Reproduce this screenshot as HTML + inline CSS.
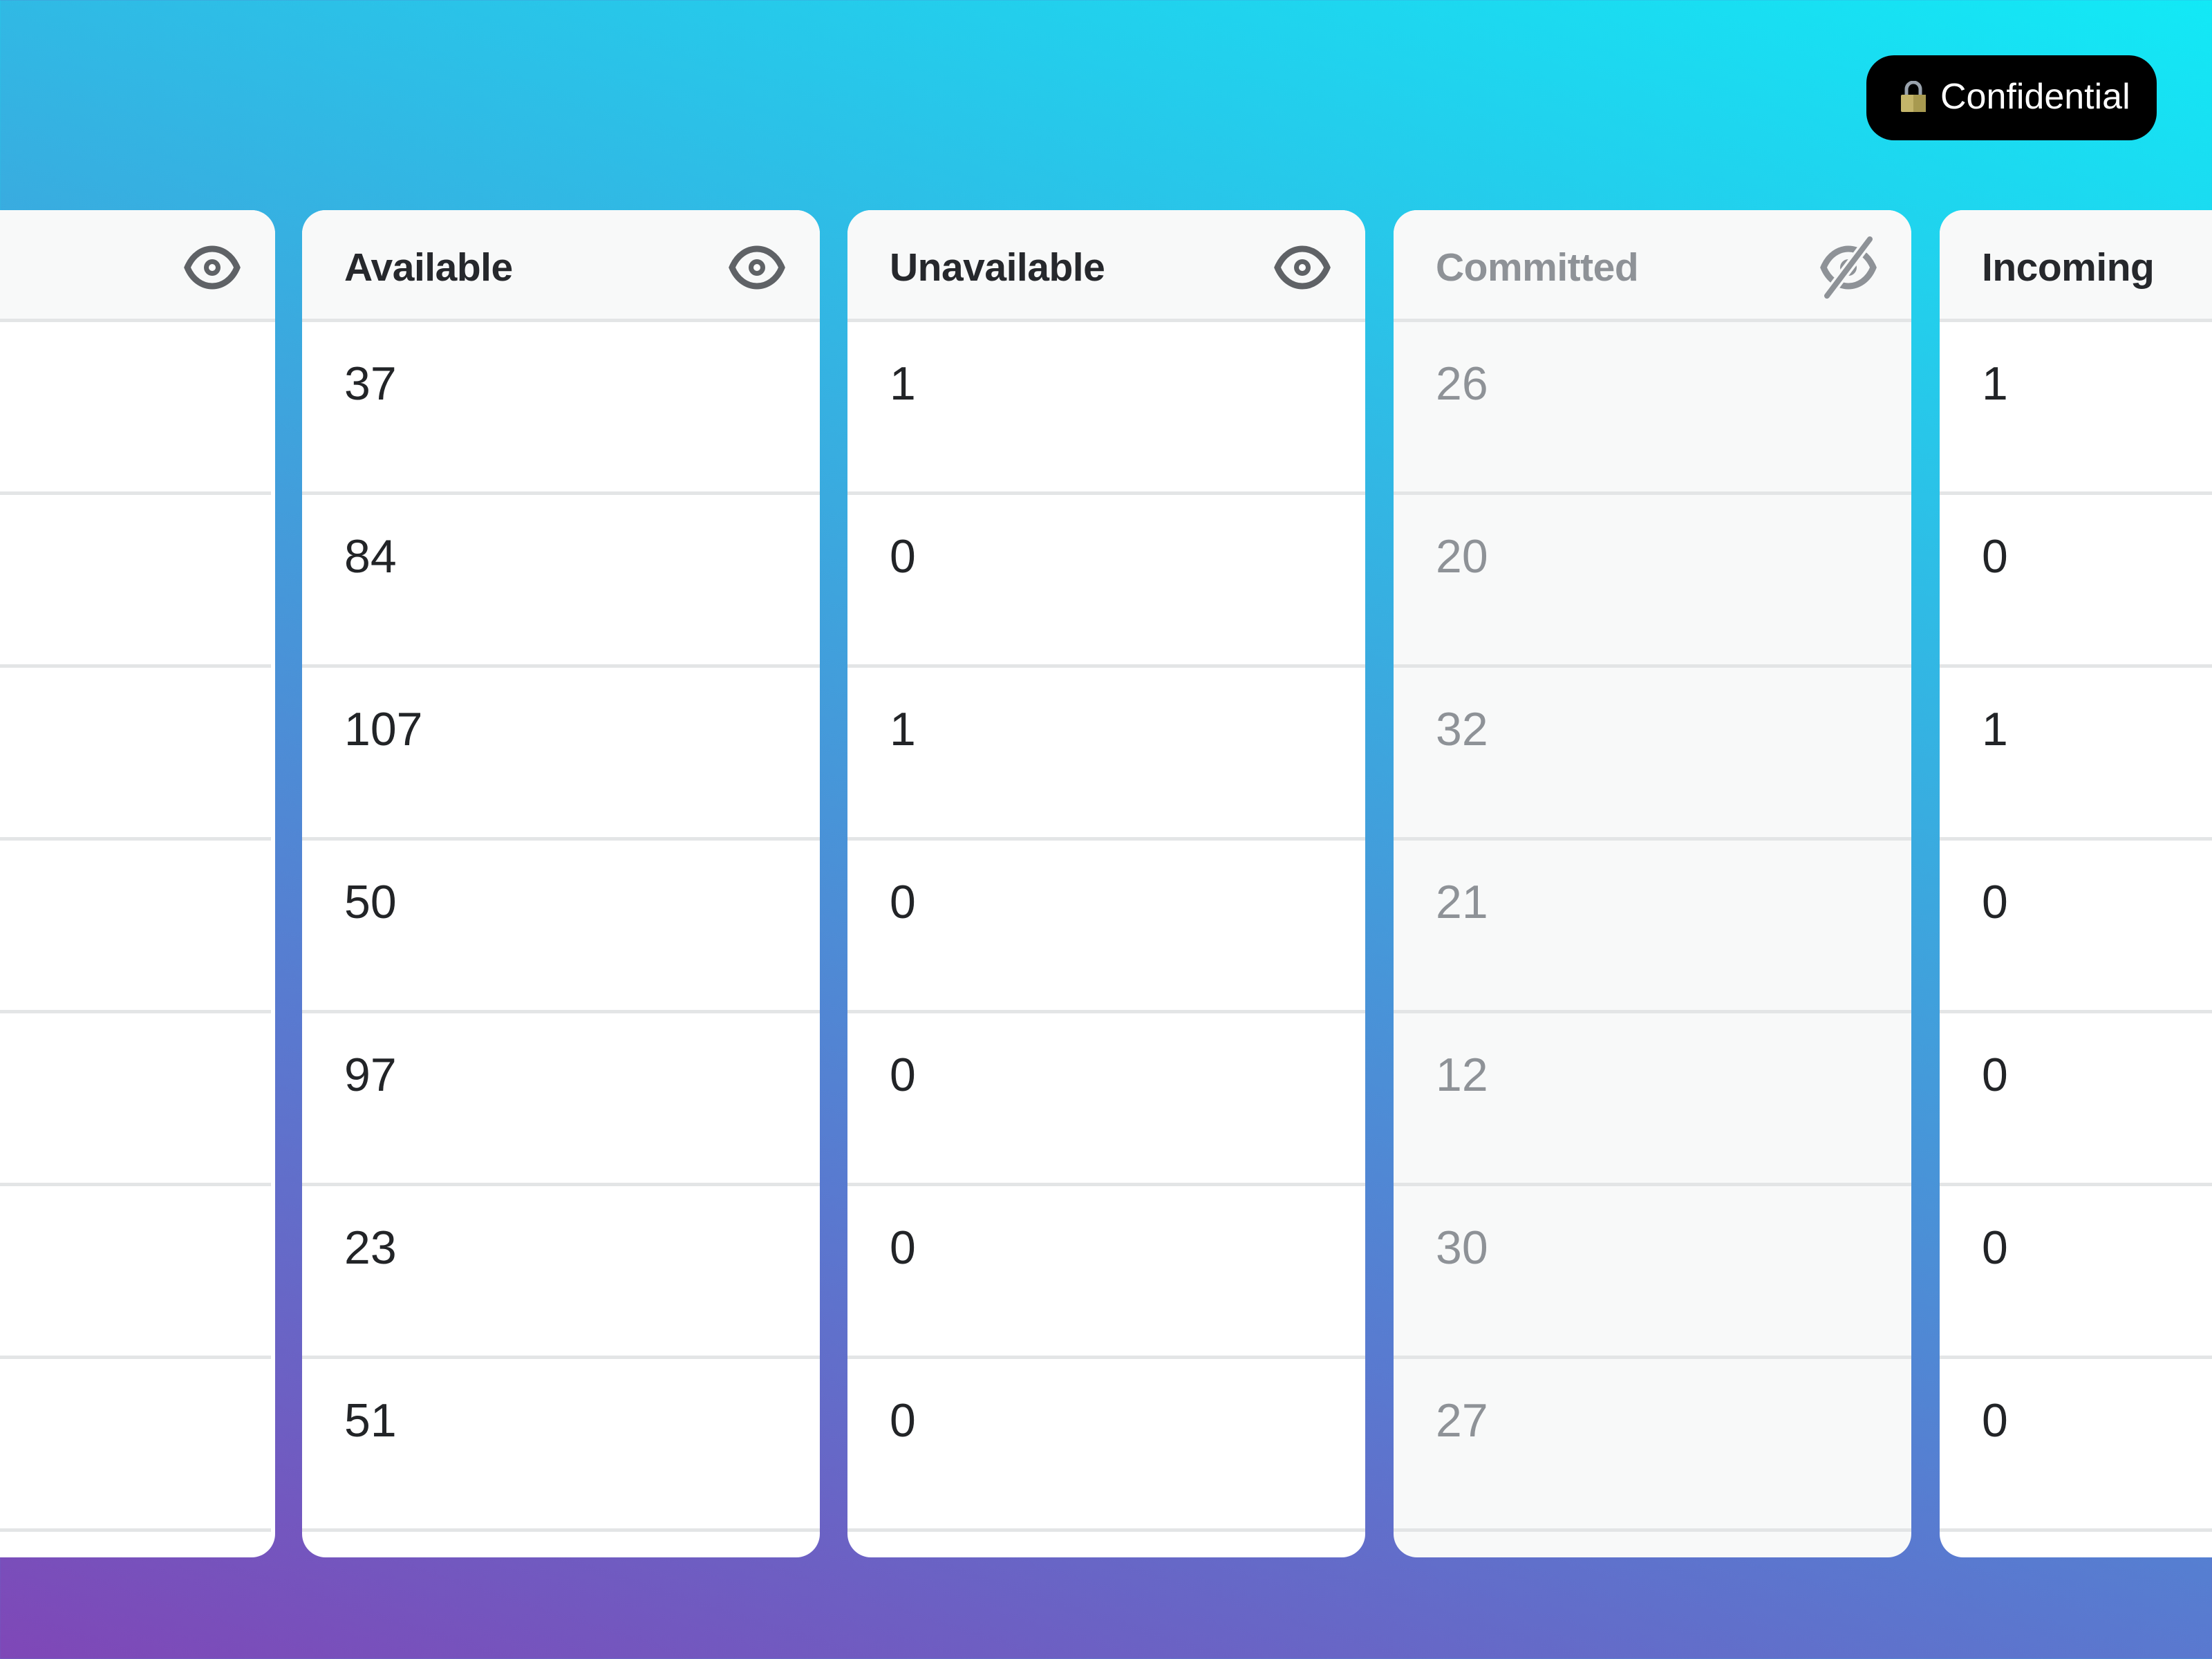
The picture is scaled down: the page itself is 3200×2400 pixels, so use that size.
<!DOCTYPE html>
<html><head><meta charset="utf-8"><style>
html,body{margin:0;padding:0}
body{width:3200px;height:2400px;position:relative;overflow:hidden;font-family:"Liberation Sans",sans-serif;
background:linear-gradient(18deg,#7f47b7 0%,#5a78cf 30%,#38ade0 62%,#12e9f6 100%);}
.card{position:absolute;top:304px;height:1949px;background:#fff;border-radius:34px;overflow:hidden}
.card.dim{background:#f8f9f9}
.hd{position:absolute;left:0;right:0;top:0;height:157px;background:#f8f9f9;border-bottom:5px solid #e3e5e6}
.hd span{position:absolute;left:61px;top:50px;font-size:57px;font-weight:bold;color:#26282c;letter-spacing:-0.5px}
.dim .hd span{color:#8e9297}
.hd svg{position:absolute;top:50px}
.row{position:absolute;left:0;right:0;height:250px;border-bottom:5px solid #e3e5e6;box-sizing:border-box}
.row span{position:absolute;left:61px;top:50px;font-size:68px;color:#222427}
.dim .row span{color:#8e9297}
.pill{position:absolute;left:2700px;top:80px;width:420px;height:123px;background:#000;border-radius:40px}
.pill span{position:absolute;left:107px;top:30px;font-size:52px;color:#fff}
.lock{position:absolute;left:50px;top:37px;width:36px;height:45px}
</style></head><body>
<div class="pill">
<svg class="lock" viewBox="0 0 36 45"><path d="M8 22V12a10 10 0 0 1 20 0v10" fill="none" stroke="#9aa3ad" stroke-width="5"/><rect x="0" y="20" width="36" height="25" rx="2" fill="#c4b56a"/><rect x="18" y="20" width="18" height="25" fill="#a89a50"/></svg>
<span>Confidential</span></div>

<div class="card" style="left:-40px;width:438px">
<div class="hd"><svg style="left:306px" width="82" height="66" viewBox="0 0 82 66"><path d="M5 33C20 -3 62 -3 77 33C62 69 20 69 5 33Z" fill="none" stroke="#5f6266" stroke-width="9"/><circle cx="41" cy="33" r="12" fill="#5f6266"/><circle cx="41" cy="33" r="5" fill="#fff"/></svg></div>
<div class="row" style="top:162px;right:6px"></div><div class="row" style="top:412px;right:6px"></div><div class="row" style="top:662px;right:6px"></div><div class="row" style="top:912px;right:6px"></div><div class="row" style="top:1162px;right:6px"></div><div class="row" style="top:1412px;right:6px"></div><div class="row" style="top:1662px;right:6px"></div>
</div>

<div class="card" style="left:437px;width:749px">
<div class="hd"><span>Available</span><svg style="left:617px" width="82" height="66" viewBox="0 0 82 66"><path d="M5 33C20 -3 62 -3 77 33C62 69 20 69 5 33Z" fill="none" stroke="#5f6266" stroke-width="9"/><circle cx="41" cy="33" r="12" fill="#5f6266"/><circle cx="41" cy="33" r="5" fill="#fff"/></svg></div>
<div class="row" style="top:162px"><span>37</span></div><div class="row" style="top:412px"><span>84</span></div><div class="row" style="top:662px"><span>107</span></div><div class="row" style="top:912px"><span>50</span></div><div class="row" style="top:1162px"><span>97</span></div><div class="row" style="top:1412px"><span>23</span></div><div class="row" style="top:1662px"><span>51</span></div>
</div>

<div class="card" style="left:1226px;width:749px">
<div class="hd"><span>Unavailable</span><svg style="left:617px" width="82" height="66" viewBox="0 0 82 66"><path d="M5 33C20 -3 62 -3 77 33C62 69 20 69 5 33Z" fill="none" stroke="#5f6266" stroke-width="9"/><circle cx="41" cy="33" r="12" fill="#5f6266"/><circle cx="41" cy="33" r="5" fill="#fff"/></svg></div>
<div class="row" style="top:162px"><span>1</span></div><div class="row" style="top:412px"><span>0</span></div><div class="row" style="top:662px"><span>1</span></div><div class="row" style="top:912px"><span>0</span></div><div class="row" style="top:1162px"><span>0</span></div><div class="row" style="top:1412px"><span>0</span></div><div class="row" style="top:1662px"><span>0</span></div>
</div>

<div class="card dim" style="left:2016px;width:749px">
<div class="hd"><span>Committed</span><svg style="left:617px;top:38px" width="82" height="90" viewBox="0 0 82 90"><path d="M5 45C20 9 62 9 77 45C62 81 20 81 5 45Z" fill="none" stroke="#8e9297" stroke-width="9"/><circle cx="41" cy="45" r="12" fill="#8e9297"/><line x1="10" y1="86" x2="72" y2="4" stroke="#f8f9f9" stroke-width="15"/><line x1="10" y1="86" x2="72" y2="4" stroke="#8e9297" stroke-width="8" stroke-linecap="round"/></svg></div>
<div class="row" style="top:162px"><span>26</span></div><div class="row" style="top:412px"><span>20</span></div><div class="row" style="top:662px"><span>32</span></div><div class="row" style="top:912px"><span>21</span></div><div class="row" style="top:1162px"><span>12</span></div><div class="row" style="top:1412px"><span>30</span></div><div class="row" style="top:1662px"><span>27</span></div>
</div>

<div class="card" style="left:2806px;width:500px">
<div class="hd"><span>Incoming</span></div>
<div class="row" style="top:162px"><span>1</span></div><div class="row" style="top:412px"><span>0</span></div><div class="row" style="top:662px"><span>1</span></div><div class="row" style="top:912px"><span>0</span></div><div class="row" style="top:1162px"><span>0</span></div><div class="row" style="top:1412px"><span>0</span></div><div class="row" style="top:1662px"><span>0</span></div>
</div>
</body></html>
